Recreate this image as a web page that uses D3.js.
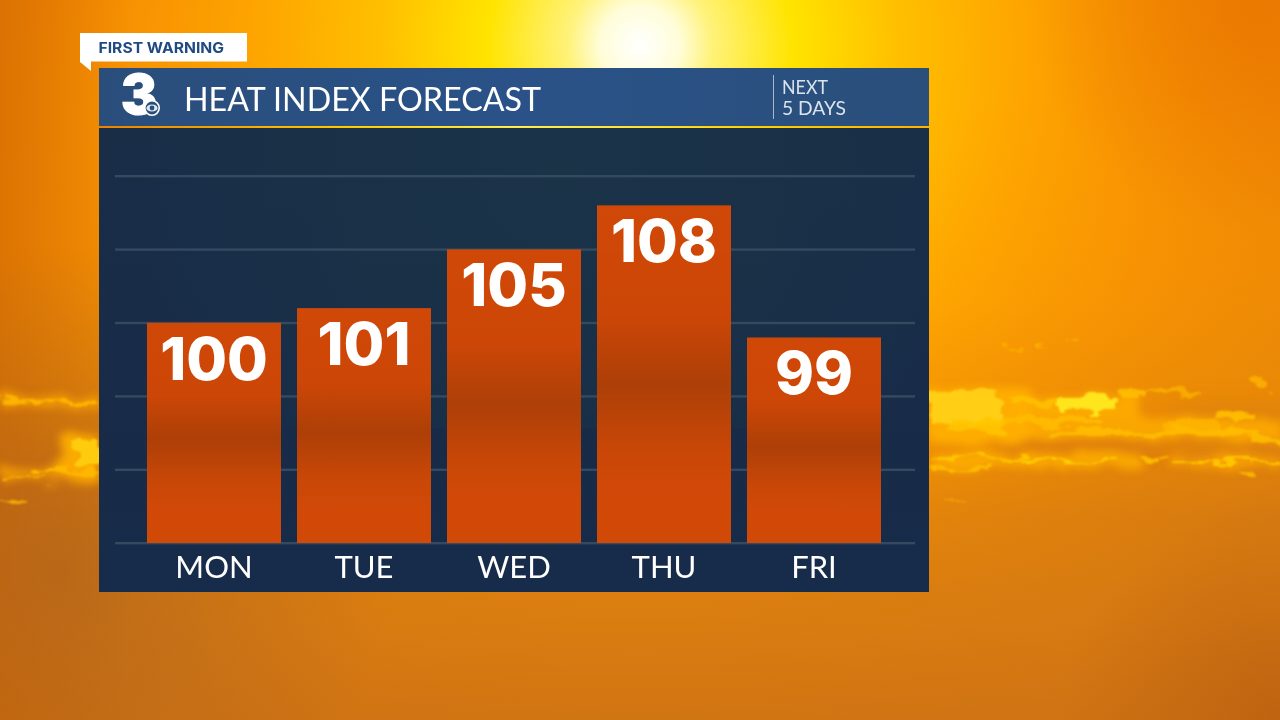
<!DOCTYPE html>
<html><head><meta charset="utf-8">
<script src="https://cdn.jsdelivr.net/npm/d3@7"></script>
<style>html,body{margin:0;padding:0;background:#000;overflow:hidden}svg{display:block}text{font-family:"Lato","Open Sans",sans-serif}</style>
</head><body><svg id="c" width="1280" height="720" viewBox="0 0 1280 720" xmlns="http://www.w3.org/2000/svg"></svg>
<script>
const days = ["MON","TUE","WED","THU","FRI"];
const heatIndex = [100,101,105,108,99];
const gridTicks = [85,90,95,100,105,110];
const titleText = "HEAT INDEX FORECAST";
const kicker = "FIRST WARNING";
const sideLines = ["NEXT","5 DAYS"];

const svg = d3.select("#c");
const defs = svg.append("defs");
function grad(id, type, attrs, stops){
  const g = defs.append(type==="r"?"radialGradient":"linearGradient").attr("id",id).attr("gradientUnits",attrs.units||"userSpaceOnUse");
  Object.entries(attrs).forEach(([k,v])=>{if(k!=="units")g.attr(k,v)});
  stops.forEach(s=>g.append("stop").attr("offset",s[0]).attr("stop-color",s[1]).attr("stop-opacity",s[2]===undefined?1:s[2]));
}
grad("skyBase","l",{x1:0,y1:0,x2:0,y2:720},[[0,"#ea7c05"],[.35,"#ee8806"],[.55,"#e88a08"],[.72,"#cf7716"],[.86,"#dc7e12"],[1,"#cc6e10"]]);
grad("sun","r",{cx:640,cy:45,r:800},[[0,"#ffffff"],[.05,"#fffdd8"],[.09,"#fff27a"],[.19,"#ffe400"],[.32,"#ffc000"],[.47,"#ffa800",.96],[.68,"#ff9c00",.55],[1,"#f08800",0]]);
grad("lowFade","l",{x1:0,y1:300,x2:0,y2:720},[[0,"#e88606",0],[.4,"#e08008",.35],[.7,"#d67a12",.75],[1,"#d07414",.85]]);
grad("edgeL","l",{x1:0,y1:0,x2:130,y2:0},[[0,"#c85e00",.5],[1,"#c85e00",0]]);
grad("cornerR","r",{cx:1250,cy:10,r:220},[[0,"#e87400",.7],[1,"#e87400",0]]);
grad("lowL","r",{cx:60,cy:570,r:330},[[0,"#a8601f",.6],[1,"#a8601f",0]]);
grad("lowR","r",{cx:1280,cy:720,r:220},[[0,"#b85c10",.7],[1,"#b85c10",0]]);
grad("head","l",{x1:99,y1:0,x2:929,y2:0},[[0,"#2a4e7b"],[.5,"#2a5288"],[1,"#2a4f7b"]]);
grad("rule","l",{x1:99,y1:0,x2:929,y2:0},[[0,"#e88000"],[.3,"#ffd000"],[.5,"#fff060"],[.75,"#ffd000"],[1,"#ffb000"]]);
grad("bodyFill","l",{x1:0,y1:128,x2:0,y2:592},[[0,"#192d47"],[.5,"#182c49"],[1,"#172b4a"]]);
grad("bodyTint","r",{cx:560,cy:170,r:420},[[0,"#1a3548",.8],[.7,"#1a3347",.45],[1,"#1a3347",0]]);
grad("barFill","l",{units:"objectBoundingBox",x1:0,y1:0,x2:0,y2:1},[[0,"#d64905"],[.32,"#d24705"],[.53,"#b24005"],[.72,"#ce4805"],[.86,"#d84a05"],[1,"#d74a05"]]);

const rough = defs.append("filter").attr("id","rough").attr("x","-10%").attr("y","-40%").attr("width","120%").attr("height","180%");
rough.append("feTurbulence").attr("type","fractalNoise").attr("baseFrequency","0.03 0.08").attr("numOctaves",4).attr("seed",7).attr("result","n");
rough.append("feDisplacementMap").attr("in","SourceGraphic").attr("in2","n").attr("scale",20).attr("result","d");
rough.append("feGaussianBlur").attr("in","d").attr("stdDeviation",1.1);
const glow = defs.append("filter").attr("id","glow").attr("x","-10%").attr("y","-40%").attr("width","120%").attr("height","180%");
glow.append("feTurbulence").attr("type","fractalNoise").attr("baseFrequency","0.03 0.08").attr("numOctaves",3).attr("seed",7).attr("result","n");
glow.append("feDisplacementMap").attr("in","SourceGraphic").attr("in2","n").attr("scale",20).attr("result","d");
glow.append("feGaussianBlur").attr("in","d").attr("stdDeviation",4);
const soft = defs.append("filter").attr("id","soft").attr("x","-20%").attr("y","-80%").attr("width","140%").attr("height","260%");
soft.append("feGaussianBlur").attr("stdDeviation",9);

const bg = svg.append("g");
bg.append("rect").attr("width",1280).attr("height",720).attr("fill","url(#skyBase)");
bg.append("rect").attr("width",1280).attr("height",720).attr("fill","url(#sun)");
bg.append("rect").attr("width",1280).attr("height",720).attr("fill","url(#lowFade)");
bg.append("rect").attr("width",130).attr("height",720).attr("fill","url(#edgeL)");
bg.append("rect").attr("width",1280).attr("height",720).attr("fill","url(#cornerR)");
bg.append("rect").attr("width",1280).attr("height",720).attr("fill","url(#lowL)");
bg.append("rect").attr("width",1280).attr("height",720).attr("fill","url(#lowR)");

// decorative cloud bands in the backdrop photo: [x, y, width, height, colour, opacity]
const cloudShades = [
  [1000,434,165,20,"#d97a08",.7],
  [1170,400,110,60,"#de8208",.5]
];
const cloudGlow = [
  [930,388,100,55,"#ffb000",.9],[1020,395,120,22,"#ffb000",.8],[1000,418,280,22,"#ffae00",.8],
  [930,453,210,16,"#ffb000",.8],[1170,456,110,12,"#ffaa00",.7],[0,395,98,12,"#ffa800",.7],[60,436,40,40,"#ffb000",.9],[0,466,100,16,"#ffa800",.7]
];
const cloudLights = [
  [930,392,70,32,"#ffd014",.95],[950,418,55,16,"#ffc600",.85],[1012,398,45,7,"#ffc400",.75],
  [1058,396,58,15,"#ffe61e",1],[1120,391,28,6,"#ffc000",.85],[1145,390,55,4,"#ffb800",.7],
  [1000,416,100,7,"#ffbe00",.8],[1045,429,215,6,"#ffbe00",.85],[1160,422,60,7,"#ffb800",.7],
  [1215,411,38,9,"#ffc000",.9],[1250,436,30,6,"#ffbe00",.85],
  [930,456,100,3,"#ffc400",1],[1020,460,100,3,"#ffd000",1],[930,466,65,4,"#ffbc00",.95],
  [1140,454,28,4,"#ffc000",.9],[1172,461,108,3,"#ffc400",1],[1240,472,14,3,"#ffc000",.8],
  [1005,346,18,2.5,"#ffb800",.7],[1035,345,12,2.5,"#ffb800",.7],[1068,342,14,3,"#ffb800",.7],
  [1255,380,12,7,"#ffb400",.8],[945,499,20,3,"#ffb000",.7],
  [0,399,95,4,"#ffb800",.9],[74,442,26,24,"#ffcc10",1],[30,469,68,4,"#ffb800",.95],[0,477,50,3,"#ffb000",.8],[0,499,26,3,"#ffb400",.85]
];
bg.selectAll("rect.shade").data(cloudShades).join("rect").attr("class","shade")
  .attr("x",d=>d[0]).attr("y",d=>d[1]).attr("width",d=>d[2]).attr("height",d=>d[3])
  .attr("fill",d=>d[4]).attr("opacity",d=>d[5]).attr("filter","url(#soft)");
bg.append("g").attr("filter","url(#glow)").selectAll("rect").data(cloudGlow).join("rect")
  .attr("x",d=>d[0]).attr("y",d=>d[1]).attr("width",d=>d[2]).attr("height",d=>d[3])
  .attr("fill",d=>d[4]).attr("opacity",d=>d[5]);
bg.append("g").attr("filter","url(#rough)").selectAll("rect").data(cloudLights).join("rect")
  .attr("x",d=>d[0]).attr("y",d=>d[1]).attr("width",d=>d[2]).attr("height",d=>d[3]).attr("rx",2)
  .attr("fill",d=>d[4]).attr("opacity",d=>d[5]);

// panel
const panel = svg.append("g");
panel.append("rect").attr("x",99).attr("y",128).attr("width",830).attr("height",464).attr("fill","url(#bodyFill)");
panel.append("rect").attr("x",99).attr("y",128).attr("width",830).attr("height",300).attr("fill","url(#bodyTint)");
panel.append("rect").attr("x",99).attr("y",68).attr("width",830).attr("height",58).attr("fill","url(#head)");
panel.append("rect").attr("x",99).attr("y",126).attr("width",830).attr("height",1.6).attr("fill","url(#rule)");

// flag
svg.append("path").attr("d","M80 33H247V61.5H91V71L80 62Z").attr("fill","#fff");
svg.append("text").attr("x",98.5).attr("y",52.5).attr("font-size",15).attr("font-weight",700).style("font-family","Inter,sans-serif").attr("fill","#1f4a82").attr("textLength",125.5).attr("lengthAdjust","spacingAndGlyphs").text(kicker);

// logo
const logo = svg.append("g");
logo.append("text").attr("x",121).attr("y",114).attr("font-size",55).attr("font-weight",900).attr("fill","#fff").attr("stroke","#fff").attr("stroke-width",1.2).style("font-family","Inter,sans-serif").attr("textLength",36).attr("lengthAdjust","spacingAndGlyphs").text("3");
logo.append("circle").attr("cx",152).attr("cy",108).attr("r",7.2).attr("fill","#2a4e7b").attr("stroke","#fff").attr("stroke-width",1.6);
logo.append("ellipse").attr("cx",152).attr("cy",108).attr("rx",5.6).attr("ry",3.6).attr("fill","#dfe8f0");
logo.append("circle").attr("cx",152).attr("cy",108).attr("r",2.4).attr("fill","#2a4e7b");

svg.append("text").attr("x",184).attr("y",111).attr("font-size",32).attr("fill","#fff").attr("textLength",357).attr("lengthAdjust","spacingAndGlyphs").text(titleText);
svg.append("rect").attr("x",773).attr("y",75).attr("width",1).attr("height",44).attr("fill","#a9b8c9");
svg.selectAll("text.side").data(sideLines).join("text").attr("class","side")
  .attr("x",782).attr("y",(d,i)=>94+i*21).attr("font-size",18.5).attr("fill","#dbe3ec")
  .attr("textLength",(d,i)=>i?64:46).attr("lengthAdjust","spacingAndGlyphs").text(d=>d);

// chart
const x = d3.scaleBand().domain(days).range([147,881]).paddingInner(16/150);
const y = d3.scaleLinear().domain([85,110]).range([543,176]);

svg.append("g").selectAll("rect").data(gridTicks).join("rect")
  .attr("x",115).attr("width",800).attr("y",d=>y(d)-1).attr("height",2.4).attr("fill","#35495f");

svg.append("g").selectAll("rect").data(days).join("rect")
  .attr("x",d=>x(d)).attr("width",x.bandwidth())
  .attr("y",(d,i)=>y(heatIndex[i])).attr("height",(d,i)=>y(85)-y(heatIndex[i]))
  .attr("fill","url(#barFill)").attr("fill-opacity",.97);

svg.append("g").selectAll("text").data(days).join("text")
  .attr("x",(d,i)=>x(d)+x.bandwidth()/2).attr("y",(d,i)=>y(heatIndex[i])+57)
  .attr("text-anchor","middle").attr("font-size",59).attr("font-weight",800)
  .style("font-family","Inter,sans-serif").attr("fill","#fff")
  .text((d,i)=>heatIndex[i]);

svg.append("g").selectAll("text").data(days).join("text")
  .attr("x",d=>x(d)+x.bandwidth()/2).attr("y",578)
  .attr("text-anchor","middle").attr("font-size",31).attr("fill","#fff").text(d=>d);
</script></body></html>
